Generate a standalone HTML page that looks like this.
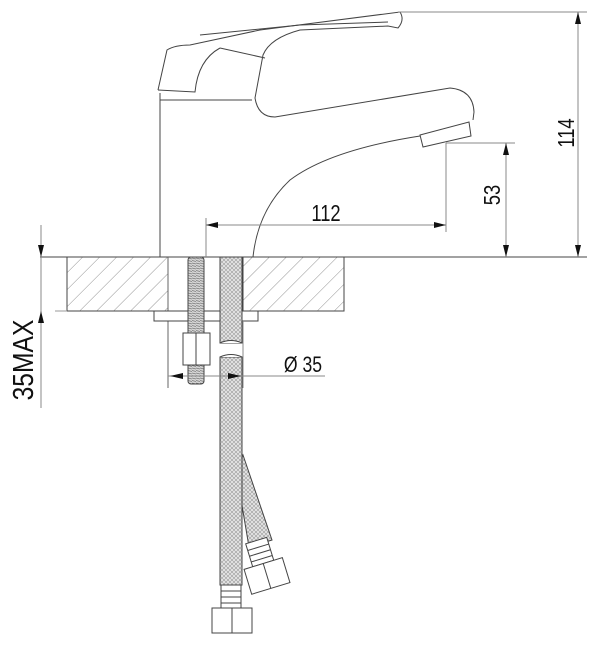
<!DOCTYPE html>
<html><head><meta charset="utf-8"><style>
html,body{margin:0;padding:0;background:#fff;}
svg{display:block;}
text{font-family:"Liberation Sans",sans-serif;fill:#111;}
</style></head><body>
<svg width="600" height="647" viewBox="0 0 600 647" xmlns="http://www.w3.org/2000/svg">
<defs>
<pattern id="hatch" width="12" height="12" patternUnits="userSpaceOnUse" patternTransform="rotate(45)">
<line x1="0" y1="0" x2="0" y2="12" stroke="#777" stroke-width="0.8"/>
</pattern>
<pattern id="braid" width="4" height="4" patternUnits="userSpaceOnUse">
<rect width="4" height="4" fill="#e6e6e6"/>
<path d="M0 0 L2 2 L4 0 M0 4 L2 2 L4 4" stroke="#999" stroke-width="0.6" fill="none"/>
</pattern>
<pattern id="thread" width="4" height="2.5" patternUnits="userSpaceOnUse">
<rect width="4" height="2.5" fill="#d6d6d6"/>
<line x1="0" y1="0.5" x2="4" y2="1.5" stroke="#777" stroke-width="0.8"/>
</pattern>
</defs>
<g stroke="#444" stroke-width="1" fill="none">
<line x1="40" y1="257" x2="587" y2="257"/>
<rect x="67" y="257" width="101" height="54" fill="url(#hatch)"/>
<rect x="243" y="257" width="101" height="54" fill="url(#hatch)"/>
<line x1="67" y1="311" x2="344" y2="311"/>
<line x1="55" y1="311" x2="67" y2="311" stroke="#999"/>
<line x1="168" y1="257" x2="168" y2="388" stroke="#666"/>
<rect x="154" y="311" width="104" height="10" fill="#fff"/>
<rect x="188" y="257" width="16" height="127" rx="3" fill="url(#thread)"/>
<rect x="183" y="333" width="27" height="32" fill="#fff"/>
<line x1="196" y1="333" x2="196" y2="365"/>
<path d="M243 455 L272 540 L249 547 L236 470 Z" fill="url(#braid)"/>
<rect x="220" y="257" width="22" height="86" fill="url(#braid)"/>
<rect x="220" y="357" width="22" height="228" fill="url(#braid)"/>
<path d="M220 343 Q231 338 242 343" fill="#fff"/>
<path d="M220 357 Q231 352 242 357" fill="#fff"/>
<rect x="221" y="585" width="20" height="23" fill="#fff"/>
<line x1="221" y1="591" x2="241" y2="591"/><line x1="221" y1="597" x2="241" y2="597"/><line x1="221" y1="603" x2="241" y2="603"/>
<rect x="212" y="608" width="40" height="25" fill="#fff"/>
<line x1="232" y1="608" x2="232" y2="633"/>
<g transform="translate(260,553) rotate(-17)">
<rect x="-11" y="-13" width="22" height="24" fill="#fff"/>
<line x1="-11" y1="-6" x2="11" y2="-6"/><line x1="-11" y1="0" x2="11" y2="0"/><line x1="-11" y1="6" x2="11" y2="6"/>
<rect x="-20" y="11" width="40" height="26" fill="#fff"/>
<line x1="0" y1="11" x2="0" y2="37"/>
</g>
<line x1="160" y1="93" x2="160" y2="257"/>
<line x1="160" y1="100" x2="252" y2="100"/>
<path d="M158 90 L167 50 Q175 45 190 45 L260 30 L400 12 Q405 20 398 28 L388 26 L300 30 Q270 38 263 55 L255 98 Q258 117 275 117 L450 88 Q473 90 474 112 L473 120"/>
<path d="M158 90 L195 92 Q198 60 220 48"/>
<path d="M220 48 L265 58"/>
<path d="M200 35 L300 25 L388 22"/>
<path d="M469 122 L471 136 L423 147 L420 135 Z" fill="#fff"/>
<path d="M420 136 Q330 150 290 180 Q258 210 253 257"/>
</g>
<g stroke="#888" stroke-width="1" fill="none">
<line x1="206" y1="218" x2="206" y2="257"/>
<line x1="446" y1="143" x2="446" y2="232"/>
<line x1="206" y1="225" x2="446" y2="225"/>
<line x1="446" y1="143" x2="515" y2="143"/>
<line x1="506" y1="143" x2="506" y2="257"/>
<line x1="398" y1="12" x2="587" y2="12"/>
<line x1="578" y1="12" x2="578" y2="257"/>
<line x1="41" y1="225" x2="41" y2="408"/>
<line x1="168" y1="376" x2="325" y2="376"/>
<line x1="243" y1="321" x2="243" y2="388"/>
</g>
<g fill="#111">
<path d="M206 225 L218 222 L218 228 Z"/>
<path d="M446 225 L434 222 L434 228 Z"/>
<path d="M506 143 L503 155 L509 155 Z"/>
<path d="M506 257 L503 245 L509 245 Z"/>
<path d="M578 12 L575 24 L581 24 Z"/>
<path d="M578 257 L575 245 L581 245 Z"/>
<path d="M41 257 L38 245 L44 245 Z"/>
<path d="M41 311 L38 323 L44 323 Z"/>
<path d="M170 376 L183 373 L183 379 Z"/>
<path d="M241 376 L228 373 L228 379 Z"/>
</g>
<text transform="translate(326,221) scale(0.8,1)" font-size="23" text-anchor="middle">112</text>
<text transform="translate(303,372) scale(0.8,1)" font-size="22" text-anchor="middle">Ø 35</text>
<text transform="translate(500,195) rotate(-90) scale(0.8,1)" font-size="23" text-anchor="middle">53</text>
<text transform="translate(574,133) rotate(-90) scale(0.8,1)" font-size="23" text-anchor="middle">114</text>
<text transform="translate(33,360) rotate(-90) scale(0.85,1)" font-size="29" text-anchor="middle">35MAX</text>
</svg>
</body></html>
